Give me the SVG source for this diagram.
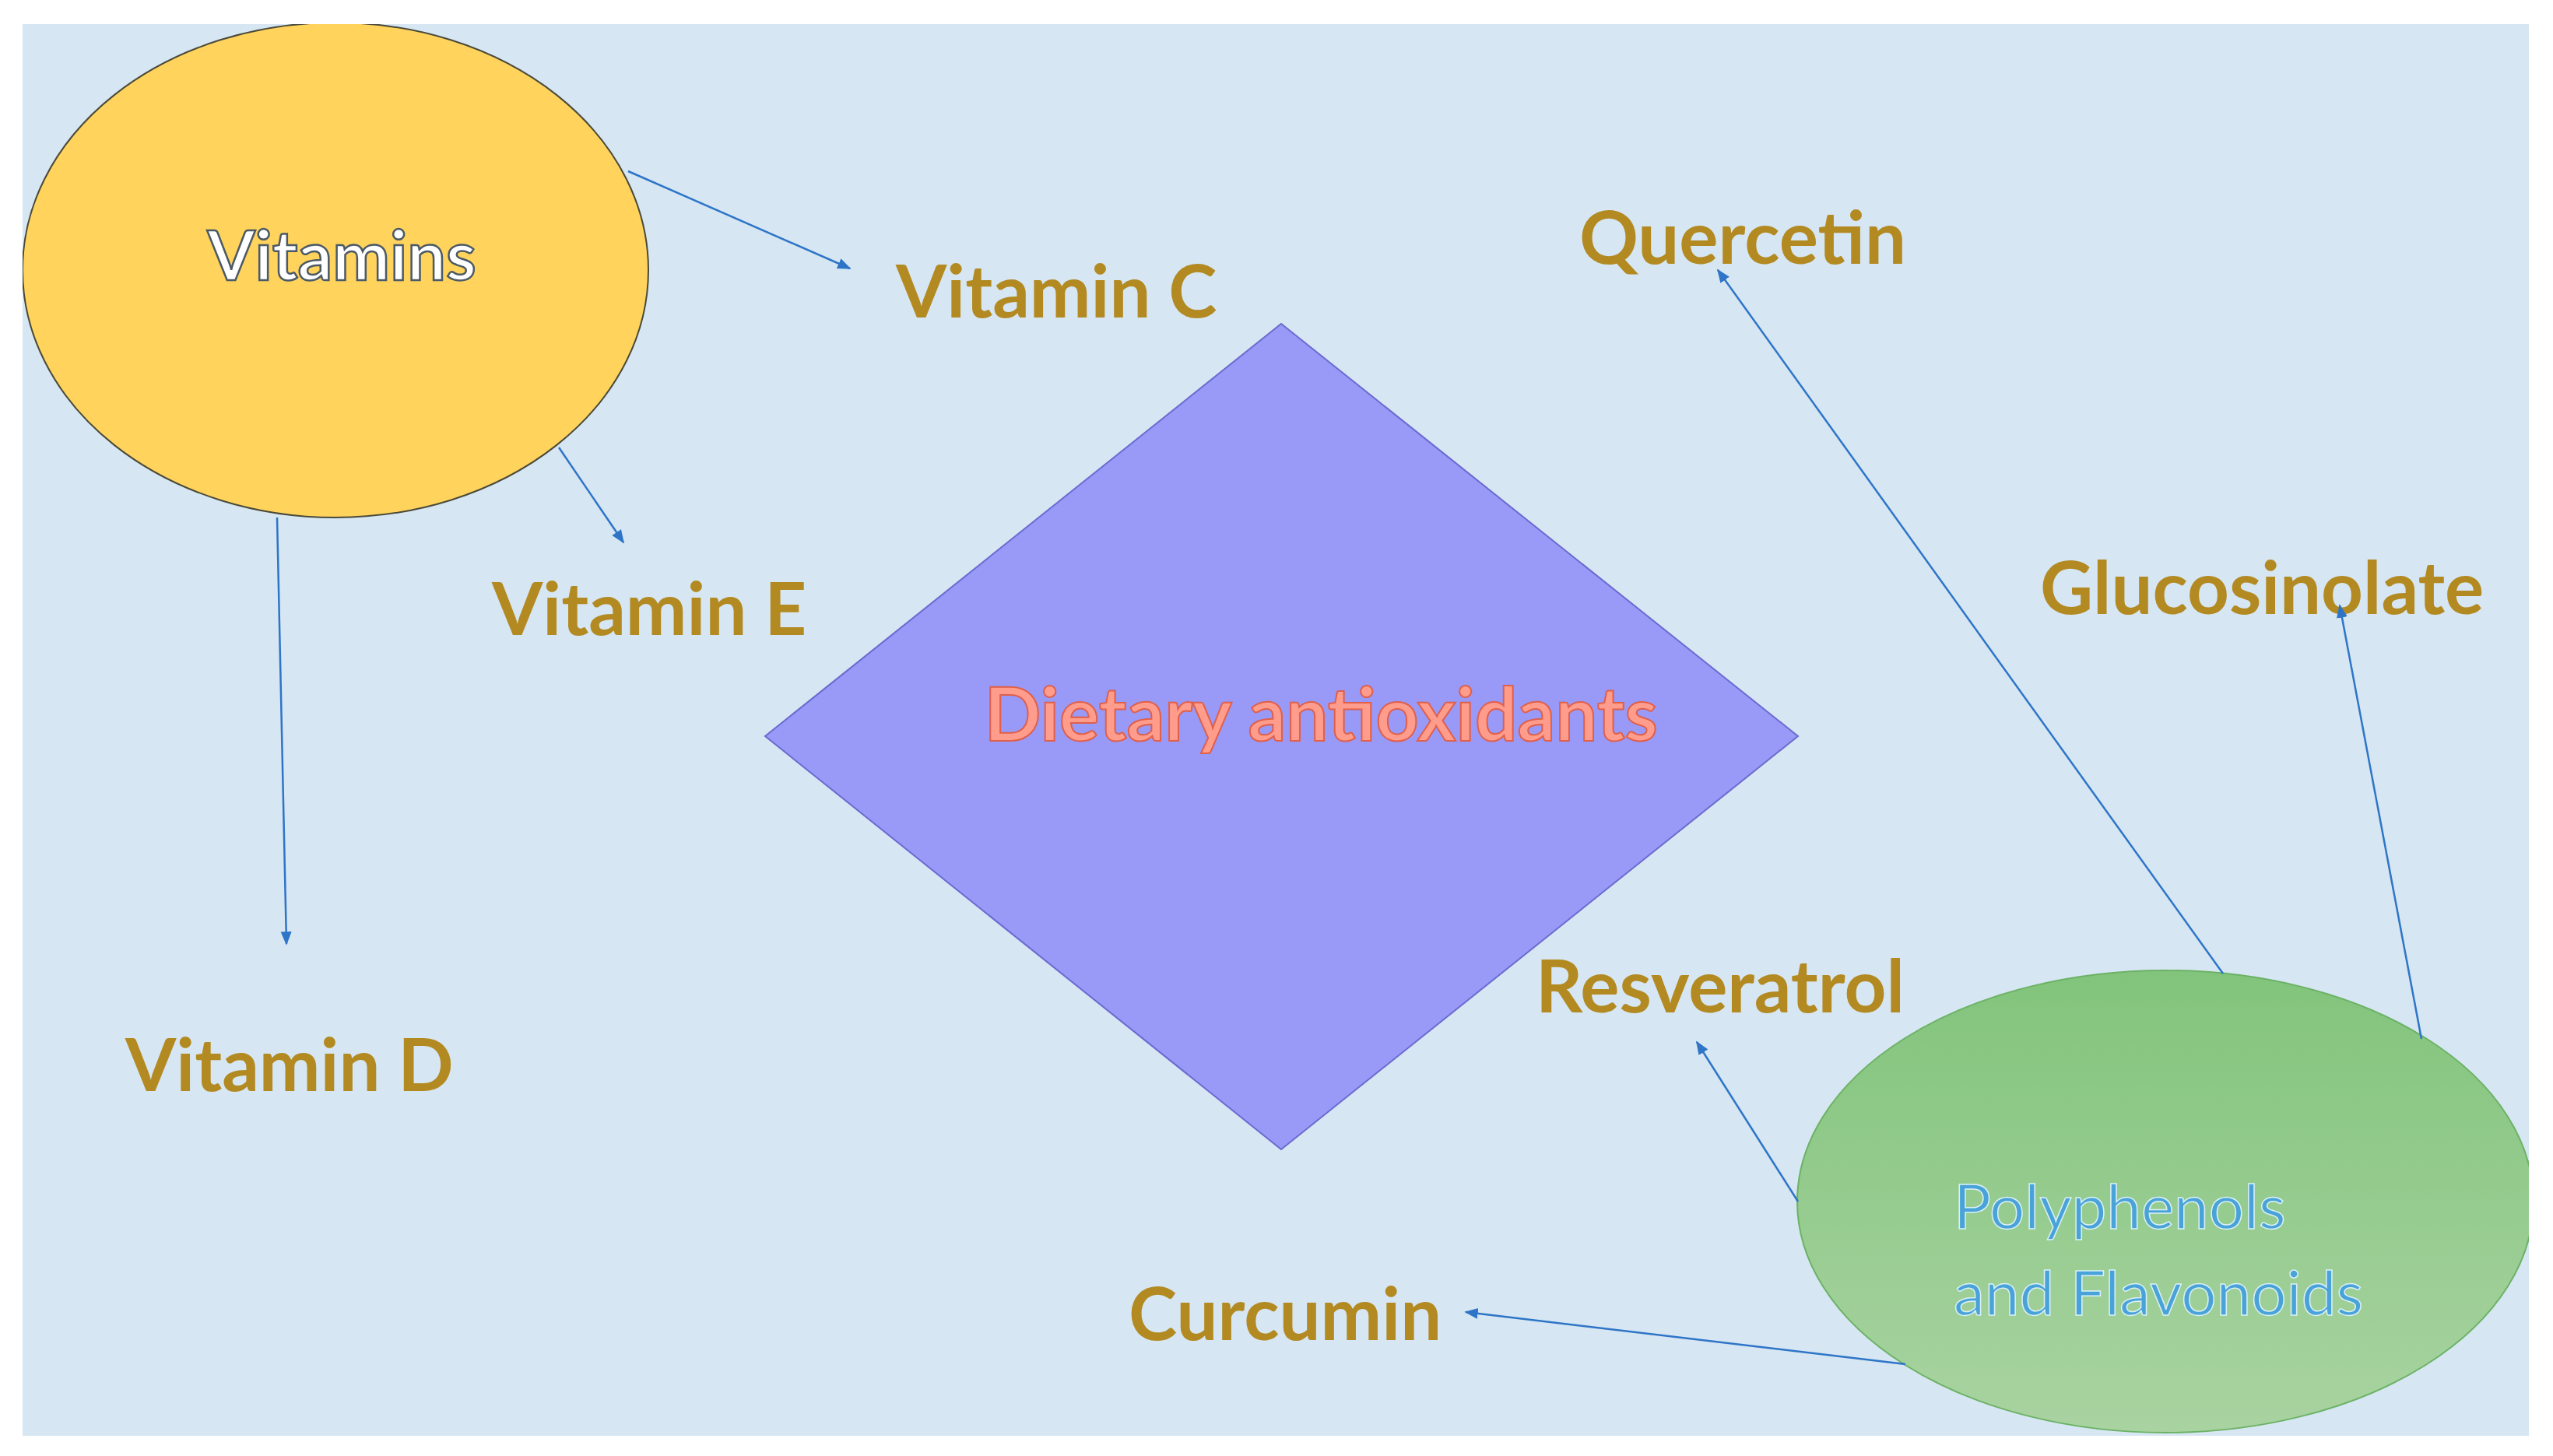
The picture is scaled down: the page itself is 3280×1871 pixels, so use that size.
<svg xmlns="http://www.w3.org/2000/svg" width="3280" height="1871" viewBox="0 0 3280 1871">
<defs>
<clipPath id="panel"><rect x="29" y="31" width="3220" height="1814"/></clipPath>
<linearGradient id="g" x1="0" y1="0" x2="0" y2="1"><stop offset="0" stop-color="#82c47c"/><stop offset="1" stop-color="#a9d3a1"/></linearGradient>
<marker id="ah" viewBox="0 0 10 10" refX="9" refY="5" markerWidth="6" markerHeight="6" orient="auto" markerUnits="userSpaceOnUse"><path d="M0,0 L10,5 L0,10 z" fill="#2e75c8"/></marker>
<marker id="a" viewBox="0 0 10 10" refX="9" refY="5" markerWidth="7" markerHeight="7" orient="auto"><path d="M0,1 L10,5 L0,9 z" fill="#2e75c8"/></marker>
</defs>
<style>
.lbl{font-family:Lato,"Open Sans","Liberation Sans",sans-serif;font-weight:bold;font-size:94px;fill:#b38a22;}
.conn line{stroke:#2e75c8;stroke-width:2.5;marker-end:url(#a);}
</style>
<rect width="3280" height="1871" fill="#ffffff"/>
<rect x="29" y="31" width="3220" height="1814" fill="#d6e6f2"/>
<g id="vitamins" clip-path="url(#panel)">
<ellipse cx="431" cy="347" rx="402" ry="318" fill="#ffd35c" stroke="#4a4a3a" stroke-width="2"/>
<text x="439" y="360" text-anchor="middle" font-family="Lato,'Liberation Sans',sans-serif" font-weight="bold" font-size="88" fill="#ffffff" stroke="#4b5a66" stroke-width="2.5">Vitamins</text>
</g>
<g id="diamond">
<polygon points="1646,416 2310,946 1646,1477 983,946" fill="#9999f8" stroke="#6a6ad0" stroke-width="2"/>
<text x="1697" y="952" text-anchor="middle" font-family="Lato,'Liberation Sans',sans-serif" font-weight="bold" font-size="96" fill="#ff9c8c" stroke="#e0604a" stroke-width="2">Dietary antioxidants</text>
</g>
<g id="polyphenols" clip-path="url(#panel)">
<ellipse cx="2782" cy="1544" rx="473" ry="297" fill="url(#g)" stroke="#6cb266" stroke-width="2"/>
<text x="2510" y="1579" font-family="Lato,'Liberation Sans',sans-serif" font-size="80" fill="#4aa3d8" stroke="#d8f0f8" stroke-width="1.5">Polyphenols</text>
<text x="2510" y="1690" font-family="Lato,'Liberation Sans',sans-serif" font-size="80" fill="#4aa3d8" stroke="#d8f0f8" stroke-width="1.5">and Flavonoids</text>
</g>
<g id="vitc"><text class="lbl" x="1151" y="408">Vitamin C</text></g>
<g id="vite"><text class="lbl" x="632" y="816">Vitamin E</text></g>
<g id="vitd"><text class="lbl" x="161" y="1402">Vitamin D</text></g>
<g id="quercetin"><text class="lbl" x="2029" y="339">Quercetin</text></g>
<g id="glucosinolate"><text class="lbl" x="2621" y="789">Glucosinolate</text></g>
<g id="resveratrol"><text class="lbl" x="1973" y="1301">Resveratrol</text></g>
<g id="curcumin"><text class="lbl" x="1450" y="1722">Curcumin</text></g>
<g id="connectors" class="conn">
<line x1="807" y1="220" x2="1092" y2="345"/>
<line x1="718" y1="575" x2="801" y2="697"/>
<line x1="356" y1="665" x2="368" y2="1213"/>
<line x1="2856" y1="1251" x2="2207" y2="347"/>
<line x1="3111" y1="1335" x2="3006" y2="778"/>
<line x1="2310" y1="1544" x2="2180" y2="1339"/>
<line x1="2448" y1="1753" x2="1883" y2="1686"/>
</g>
</svg>
